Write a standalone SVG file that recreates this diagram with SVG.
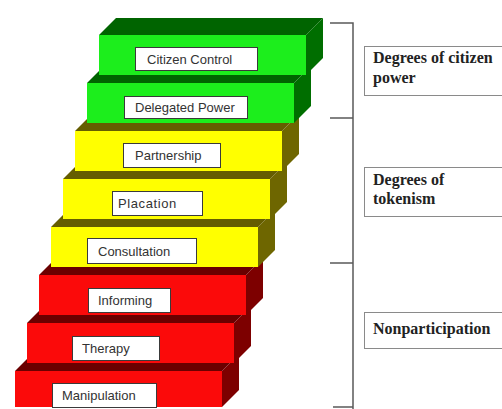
<svg xmlns="http://www.w3.org/2000/svg" width="502" height="409" viewBox="0 0 502 409">
<style>
.gf{fill:#1cee1c}.gt{fill:#006400}.gs{fill:#006e00}
.yf{fill:#ffff00}.yt{fill:#655d00}.ys{fill:#6e6600}
.rf{fill:#fb0a0a}.rt{fill:#6a0000}.rs{fill:#7d0000}
.lb{fill:#ffffff;stroke:#3a3a3a;stroke-width:1}
.lt{font-family:"Liberation Sans",Arial,sans-serif;font-size:13px;fill:#333333}
.br{stroke:#5a5a5a;stroke-width:1.5;fill:none}
.cb{fill:#ffffff;stroke:#8a8a8a;stroke-width:1}
.ct{font-family:"Liberation Serif","Times New Roman",serif;font-size:16px;font-weight:bold;fill:#222222}
</style>
<rect width="502" height="409" fill="#ffffff"/>
<g id="manipulation">
<polygon class="rt" points="15,371 32,354 239,354 222,371"/>
<polygon class="rs" points="222,371 239,354 239,390 222,407"/>
<rect class="rf" x="15" y="371" width="207" height="36"/>
<rect class="lb" x="52.5" y="383.5" width="104" height="24"/>
<text class="lt" x="62" y="400">Manipulation</text>
</g>
<g id="therapy">
<polygon class="rt" points="27,323 44,306 251,306 234,323"/>
<polygon class="rs" points="234,323 251,306 251,346 234,363"/>
<rect class="rf" x="27" y="323" width="207" height="40"/>
<rect class="lb" x="72.5" y="336.5" width="87" height="24"/>
<text class="lt" x="82" y="353">Therapy</text>
</g>
<g id="informing">
<polygon class="rt" points="39,275 56,258 263,258 246,275"/>
<polygon class="rs" points="246,275 263,258 263,298 246,315"/>
<rect class="rf" x="39" y="275" width="207" height="40"/>
<rect class="lb" x="88.5" y="288.5" width="82" height="24"/>
<text class="lt" x="98" y="305">Informing</text>
</g>
<g id="consultation">
<polygon class="yt" points="51,227 68,210 275,210 258,227"/>
<polygon class="ys" points="258,227 275,210 275,250 258,267"/>
<rect class="yf" x="51" y="227" width="207" height="40"/>
<rect class="lb" x="87.5" y="238.5" width="109" height="25"/>
<text class="lt" x="98" y="256">Consultation</text>
</g>
<g id="placation">
<polygon class="yt" points="63,179 80,162 287,162 270,179"/>
<polygon class="ys" points="270,179 287,162 287,202 270,219"/>
<rect class="yf" x="63" y="179" width="207" height="40"/>
<rect class="lb" x="112.5" y="191.5" width="90" height="24"/>
<text class="lt" x="118" y="208" letter-spacing="0.6">Placation</text>
</g>
<g id="partnership">
<polygon class="yt" points="75,131 92,114 299,114 282,131"/>
<polygon class="ys" points="282,131 299,114 299,154 282,171"/>
<rect class="yf" x="75" y="131" width="207" height="40"/>
<rect class="lb" x="123.5" y="143.5" width="97" height="24"/>
<text class="lt" x="135" y="160">Partnership</text>
</g>
<g id="delegated-power">
<polygon class="gt" points="87,83 104,66 311,66 294,83"/>
<polygon class="gs" points="294,83 311,66 311,106 294,123"/>
<rect class="gf" x="87" y="83" width="207" height="40"/>
<rect class="lb" x="124.5" y="96.5" width="123" height="22"/>
<text class="lt" x="135" y="112">Delegated Power</text>
</g>
<g id="citizen-control">
<polygon class="gt" points="99,35 116,18 323,18 306,35"/>
<polygon class="gs" points="306,35 323,18 323,58 306,75"/>
<rect class="gf" x="99" y="35" width="207" height="40"/>
<rect class="lb" x="135.5" y="47.5" width="122" height="23"/>
<text class="lt" x="147" y="64">Citizen Control</text>
</g>
<g id="bracket">
<path class="br" d="M330,23 H353 V409 M330,118 H353 M330,263 H353 M333,407 H353"/>
</g>
<g id="citizen-power">
<rect class="cb" x="364.5" y="46.5" width="150" height="49"/>
<text class="ct" x="373" y="63">Degrees of citizen</text>
<text class="ct" x="373" y="83">power</text>
</g>
<g id="tokenism">
<rect class="cb" x="364.5" y="167.5" width="150" height="49"/>
<text class="ct" x="373" y="185">Degrees of</text>
<text class="ct" x="373" y="204">tokenism</text>
</g>
<g id="nonparticipation">
<rect class="cb" x="364.5" y="312.5" width="150" height="36"/>
<text class="ct" x="373" y="334">Nonparticipation</text>
</g>
</svg>
